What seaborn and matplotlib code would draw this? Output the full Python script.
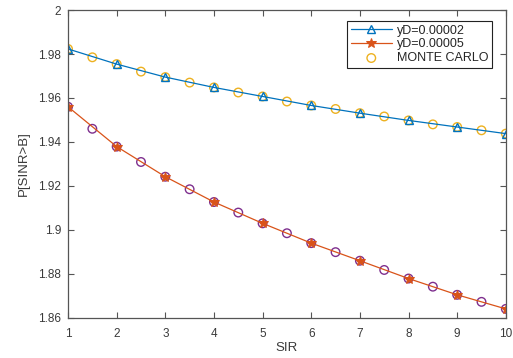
import seaborn as sns
import matplotlib.pyplot as plt
from matplotlib.ticker import FuncFormatter
import pandas as pd

# valeurs
sir = [1, 2, 3, 4, 5, 6, 7, 8, 9, 10]
p_yd2 = [1.9823, 1.9754, 1.9695, 1.9648, 1.9607, 1.9566, 1.9531, 1.9498, 1.9468, 1.9438]
p_yd5 = [1.9560, 1.9379, 1.9242, 1.9127, 1.9030, 1.8940, 1.8860, 1.8779, 1.8705, 1.8641]

sir_mc = [1, 1.5, 2, 2.5, 3, 3.5, 4, 4.5, 5, 5.5, 6, 6.5, 7, 7.5, 8, 8.5, 9, 9.5, 10]
mc_yd2 = [1.9823, 1.9785, 1.9754, 1.9720, 1.9695, 1.9670, 1.9648, 1.9625, 1.9607, 1.9584,
          1.9566, 1.9550, 1.9531, 1.9516, 1.9498, 1.9480, 1.9468, 1.9453, 1.9438]
mc_yd5 = [1.9560, 1.9460, 1.9379, 1.9309, 1.9242, 1.9185, 1.9127, 1.9079, 1.9030, 1.8985,
          1.8940, 1.8899, 1.8860, 1.8818, 1.8779, 1.8742, 1.8705, 1.8673, 1.8641]

df = pd.DataFrame({'SIR': sir, 'yd2': p_yd2, 'yd5': p_yd5})
df_mc = pd.DataFrame({'SIR': sir_mc, 'yd2': mc_yd2, 'yd5': mc_yd5})

sns.set_style("ticks")
plt.rcParams['font.family'] = ['Liberation Sans', 'DejaVu Sans']
axcol = '#555555'
txtcol = '#3a3a3a'

fig = plt.figure(figsize=(5.13, 3.58), dpi=100)
ax = fig.add_axes([0.1326, 0.112, 0.8534, 0.86])

sns.lineplot(data=df, x='SIR', y='yd2', ax=ax, color='#0072BD', lw=0.9, marker='^',
             markersize=6, markerfacecolor='none', markeredgecolor='#0072BD',
             markeredgewidth=1, label='yD=0.00002')
sns.lineplot(data=df, x='SIR', y='yd5', ax=ax, color='#D95319', lw=0.9, marker='*',
             markersize=7, markeredgecolor='#D95319', label='yD=0.00005')
sns.scatterplot(data=df_mc, x='SIR', y='yd2', ax=ax, marker='o', s=38,
                facecolor='none', edgecolor='#EDB120', linewidth=1, label='MONTE CARLO')
sns.scatterplot(data=df_mc, x='SIR', y='yd5', ax=ax, marker='o', s=38,
                facecolor='none', edgecolor='#7E2F8E', linewidth=1, label='_nolegend_')

ax.set_xlim(1, 10)
ax.set_ylim(1.86, 2.0)
ax.set_xticks(range(1, 11))
ax.set_yticks([1.86, 1.88, 1.9, 1.92, 1.94, 1.96, 1.98, 2.0])
ax.yaxis.set_major_formatter(FuncFormatter(lambda v, p: '%g' % round(v, 2)))
ax.tick_params(direction='in', top=True, right=True, length=4, width=0.8,
               colors=axcol, labelsize=8.5, labelcolor=txtcol)
ax.tick_params(axis='x', pad=7)
ax.tick_params(axis='y', pad=5)
for s in ax.spines.values():
    s.set_color(axcol)
    s.set_linewidth(0.9)
ax.set_xlabel('SIR', fontsize=9.5, color=txtcol, labelpad=2)
ax.set_ylabel('P[SINR>B]', fontsize=9.5, color=txtcol, labelpad=6)

leg = ax.legend(loc='upper left', bbox_to_anchor=(0.637, 0.965), fontsize=9,
                frameon=True, fancybox=False, edgecolor='#222222', framealpha=1,
                handlelength=3.3, borderpad=0.3, labelspacing=0.15, handletextpad=0.4,
                borderaxespad=0)
leg.get_frame().set_linewidth(0.8)

plt.savefig("out.png", dpi=100)
